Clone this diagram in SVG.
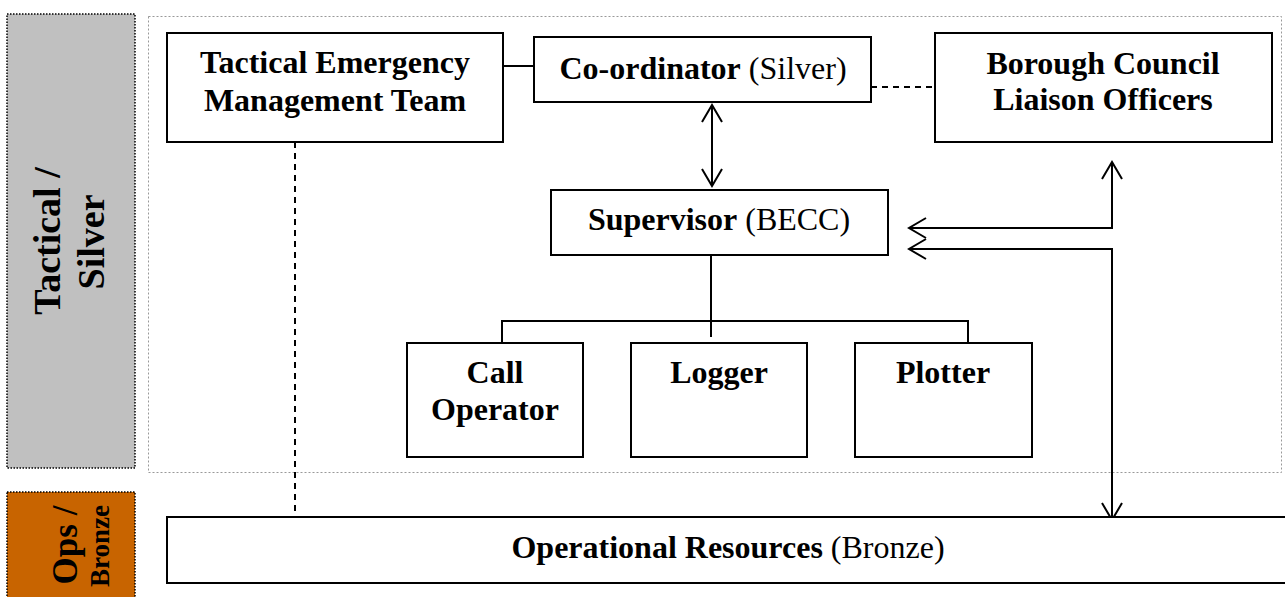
<svg xmlns="http://www.w3.org/2000/svg" width="1285" height="597" viewBox="0 0 1285 597">
<style>
.box{fill:#fff;stroke:#000;stroke-width:2}
.t{font-family:"Liberation Serif","Times New Roman",serif;font-size:32px;fill:#000;text-anchor:middle}
.b{font-weight:bold}
.n{font-weight:normal}
.c{fill:none;stroke:#000;stroke-width:2}
.dash{stroke-dasharray:6,5}
</style>
<defs>
<marker id="v" markerUnits="userSpaceOnUse" markerWidth="24" markerHeight="26" refX="19" refY="12" orient="auto-start-reverse" viewBox="0 0 24 26">
<path d="M2,2 L19,12 L2,22" fill="none" stroke="#000" stroke-width="2"/>
</marker>
</defs>
<g id="bands">
<rect x="7" y="14" width="128" height="454" fill="#c0c0c0" stroke="#000" stroke-width="1.5" stroke-dasharray="1.5,1.5"/>
<rect x="7" y="492" width="128" height="110" fill="#c86400" stroke="#000" stroke-width="1.5" stroke-dasharray="1.5,1.5"/>
<rect x="148.5" y="16.5" width="1133" height="456" fill="none" stroke="#999" stroke-width="1" stroke-dasharray="2,2"/>
<text class="t b" transform="translate(60,241) rotate(-90)" style="font-size:38px">Tactical /</text>
<text class="t b" transform="translate(104,242) rotate(-90)" style="font-size:38px">Silver</text>
<text class="t b" transform="translate(77,545) rotate(-90)" style="font-size:35px">Ops /</text>
<text class="t b" transform="translate(109,546) rotate(-90)" style="font-size:27px">Bronze</text>
</g>
<g id="connectors">
<line class="c" x1="503" y1="66" x2="534" y2="66"/>
<line class="c dash" x1="871" y1="87" x2="935" y2="87"/>
<line class="c" x1="712" y1="105" x2="712" y2="186" marker-start="url(#v)" marker-end="url(#v)"/>
<line class="c" x1="711" y1="255" x2="711" y2="337"/>
<path class="c" d="M502,343 V321 H968 V343"/>
<path class="c" d="M909,228 H1112 V162" marker-start="url(#v)" marker-end="url(#v)"/>
<path class="c" d="M909,249 H1112 V520" marker-start="url(#v)" marker-end="url(#v)"/>
<line class="c dash" x1="295" y1="142" x2="295" y2="522"/>
</g>
<g id="temt">
<rect class="box" x="167" y="33" width="336" height="109"/>
<text class="t b" x="335" y="73">Tactical Emergency</text>
<text class="t b" x="335" y="111">Management Team</text>
</g>
<g id="coordinator">
<rect class="box" x="534" y="37" width="337" height="65"/>
<text class="t" x="703" y="79"><tspan class="b">Co-ordinator</tspan> <tspan class="n">(Silver)</tspan></text>
</g>
<g id="borough">
<rect class="box" x="935" y="33" width="337" height="109"/>
<text class="t b" x="1103" y="74">Borough Council</text>
<text class="t b" x="1103" y="110">Liaison Officers</text>
</g>
<g id="supervisor">
<rect class="box" x="551" y="190" width="337" height="65"/>
<text class="t" x="719" y="230"><tspan class="b">Supervisor</tspan> <tspan class="n">(BECC)</tspan></text>
</g>
<g id="call-operator">
<rect class="box" x="407" y="343" width="176" height="114"/>
<text class="t b" x="495" y="383">Call</text>
<text class="t b" x="495" y="420">Operator</text>
</g>
<g id="logger">
<rect class="box" x="631" y="343" width="176" height="114"/>
<text class="t b" x="719" y="383">Logger</text>
</g>
<g id="plotter">
<rect class="box" x="855" y="343" width="177" height="114"/>
<text class="t b" x="943" y="383">Plotter</text>
</g>
<g id="operational">
<rect class="box" x="167" y="517" width="1130" height="66"/>
<text class="t" x="728" y="558"><tspan class="b">Operational Resources</tspan> <tspan class="n">(Bronze)</tspan></text>
</g>
</svg>
